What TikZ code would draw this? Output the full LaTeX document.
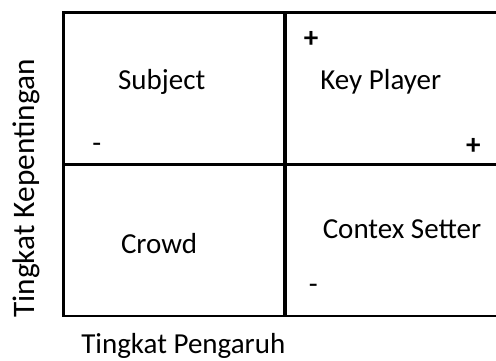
\documentclass[tikz,border=0pt]{standalone}
\usepackage{fontspec}
\setmainfont{Carlito}
\tikzset{
    frame/.style={line width=2.6pt},
    divider/.style={line width=4.2pt},
    lbl/.style={anchor=base, inner sep=0pt, font=\fontsize{29}{34}\selectfont},
    sign/.style={anchor=center, inner sep=0pt, font=\fontsize{29}{34}\selectfont}
}
\begin{document}
\begin{tikzpicture}[x=1pt, y=1pt]
    \useasboundingbox (0,0) rectangle (496,361);
    % corners of the matrix
    \coordinate (tl) at (63.5,348.5);
    \coordinate (bl) at (63.5,45);
    \coordinate (tr) at (500,348.5);
    \coordinate (br) at (500,45);
    \coordinate (ml) at (63.5,196.5);
    \coordinate (mr) at (500,196.5);
    \coordinate (mt) at (285,348.5);
    \coordinate (mb) at (285,45);

    \draw [frame] (tr) -- (tl) -- (bl) -- (br);
    \draw [frame] (ml) -- (mr);
    \draw [divider] (mt) -- (mb);

    % quadrant labels
    \node (subject) [lbl] at (161.7,271) {Subject};
    \node (keyplayer) [lbl] at (380.8,271) {Key Player};
    \node (crowd) [lbl] at (159,107.7) {Crowd};
    \node (contex) [lbl] at (402,122.7) {Contex Setter};

    % signs
    \node (plustop) [sign] at (311,322) {\bfseries +};
    \node (plusright) [sign] at (473.3,215) {\bfseries +};
    \node (minusleft) [sign] at (96.7,213) {-};
    \node (minusbottom) [sign] at (313.3,71.7) {-};

    % axis titles
    \node (xaxis) [lbl] at (183.3,7.5) {Tingkat Pengaruh};
    \node (yaxis) [lbl, rotate=90, font=\fontsize{31.3}{36}\selectfont] at (34.5,172.5) {Tingkat Kepentingan};
\end{tikzpicture}
\end{document}
